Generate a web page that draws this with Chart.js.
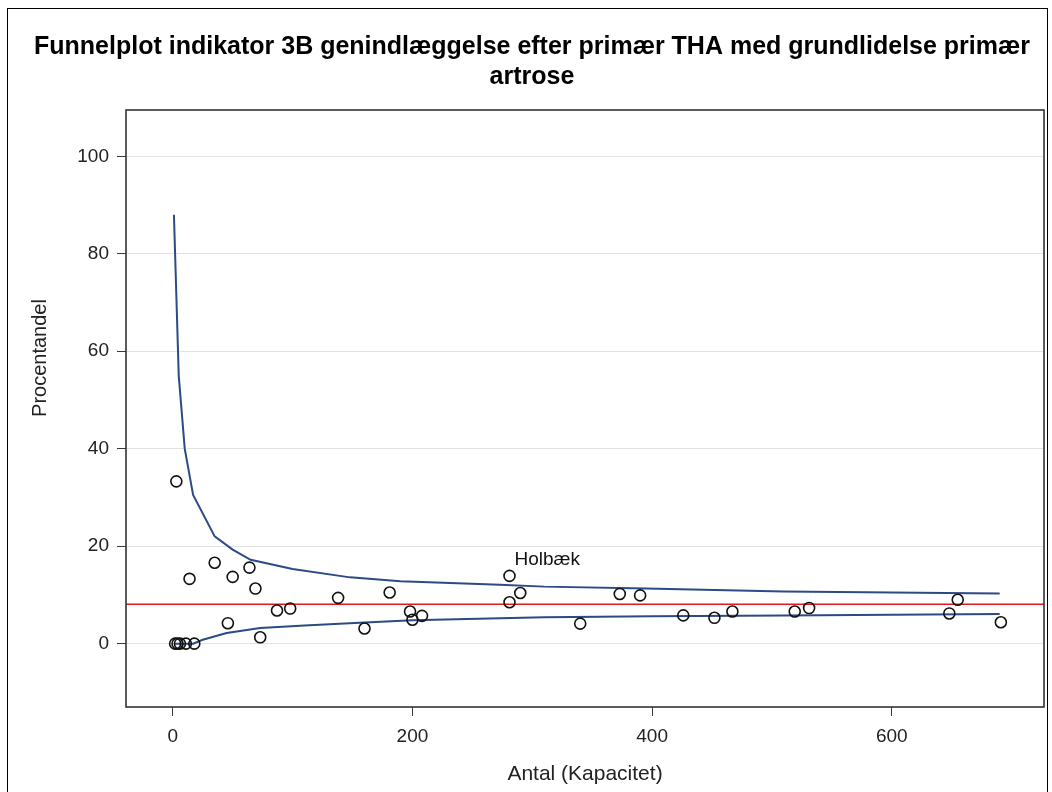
<!DOCTYPE html>
<html>
<head>
<meta charset="utf-8">
<script src="https://cdn.jsdelivr.net/npm/chart.js@4.4.1/dist/chart.umd.min.js"></script>
<style>
  html, body { margin: 0; padding: 0; background: #fff; }
  #wrap { position: relative; width: 1052px; height: 792px; overflow: hidden; }
  #frame { position: absolute; left: 7px; top: 8px; width: 1041px; height: 800px; border: 1.5px solid #000; box-sizing: border-box; pointer-events: none; }
  canvas { position: absolute; left: 0; top: 0; }
</style>
</head>
<body>
<div id="wrap">
  <canvas id="c" width="1052" height="792"></canvas>
  <div id="frame"></div>
</div>
<script>
// ---- data ----
const titleLines = ["Funnelplot indikator 3B genindlæggelse efter primær THA med grundlidelse primær", "artrose"];
const xTitle = "Antal (Kapacitet)";
const yTitle = "Procentandel";
const xTicks = [0, 200, 400, 600];
const yTicks = [0, 20, 40, 60, 80, 100];

const hospN   = [2, 3, 4, 6, 11, 14, 18, 35, 46, 50, 64, 69, 73, 87, 98, 138, 160, 181, 198, 200, 208, 281, 281, 290, 340, 373, 390, 426, 452, 467, 519, 531, 648, 655, 691];
const hospPct = [0, 33.3, 0, 0, 0, 13.3, 0, 16.6, 4.2, 13.7, 15.6, 11.3, 1.3, 6.8, 7.2, 9.4, 3.1, 10.5, 6.6, 4.9, 5.7, 13.9, 8.5, 10.4, 4.1, 10.2, 9.9, 5.8, 5.3, 6.6, 6.6, 7.3, 6.2, 9.0, 4.4];

const upperN   = [1, 5, 10, 17, 35, 50, 65, 100, 148, 190, 273, 310, 395, 510, 690];
const upperPct = [88, 55, 40, 30.5, 22, 19.3, 17.2, 15.3, 13.6, 12.8, 12.1, 11.7, 11.3, 10.7, 10.3];

const lowerN   = [1, 17, 25, 45, 73, 110, 156, 200, 310, 400, 510, 690];
const lowerPct = [0, 0, 0.8, 2.2, 3.2, 3.7, 4.3, 4.8, 5.4, 5.6, 5.8, 6.1];

const meanPct = 8.1;
const xMin = -39, xMax = 727;
const yMin = -13, yMax = 109.5;

const labelName = "Holbæk";
const labelIndex = 21;

// ---- build ----
const pts = (xs, ys) => xs.map((x, i) => ({ x: x, y: ys[i] }));

const FONT = "'Liberation Sans', Arial, sans-serif";

const boxPlugin = {
  id: 'box',
  afterDraw(chart) {
    const { ctx, chartArea: a, scales } = chart;
    ctx.save();
    ctx.strokeStyle = '#333';
    ctx.lineWidth = 1.6;
    ctx.strokeRect(a.left, a.top, a.right - a.left, a.bottom - a.top);
    // point label
    const px = scales.x.getPixelForValue(hospN[labelIndex]);
    const py = scales.y.getPixelForValue(hospPct[labelIndex]);
    ctx.fillStyle = '#111';
    ctx.font = "19px " + FONT;
    ctx.textAlign = 'left';
    ctx.textBaseline = 'middle';
    ctx.fillText(labelName, px + 5, py - 16);
    // y axis title
    ctx.translate(40, 358);
    ctx.rotate(-Math.PI / 2);
    ctx.font = "20px " + FONT;
    ctx.fillStyle = '#222';
    ctx.textAlign = 'center';
    ctx.fillText(yTitle, 0, 0);
    ctx.restore();
  }
};

new Chart(document.getElementById('c'), {
  type: 'scatter',
  data: {
    datasets: [
      {
        label: 'upper',
        data: pts(upperN, upperPct),
        showLine: true,
        borderColor: '#2c4a86',
        borderWidth: 2,
        pointRadius: 0,
        tension: 0,
        order: 2
      },
      {
        label: 'lower',
        data: pts(lowerN, lowerPct),
        showLine: true,
        borderColor: '#2c4a86',
        borderWidth: 2,
        pointRadius: 0,
        tension: 0,
        order: 2
      },
      {
        label: 'mean',
        data: [{ x: xMin, y: meanPct }, { x: xMax, y: meanPct }],
        showLine: true,
        borderColor: '#e0191c',
        borderWidth: 1.5,
        pointRadius: 0,
        order: 3
      },
      {
        label: 'hosp',
        data: pts(hospN, hospPct),
        showLine: false,
        pointStyle: 'circle',
        pointRadius: 5.5,
        pointBorderWidth: 1.6,
        borderColor: '#111',
        backgroundColor: 'rgba(0,0,0,0)',
        order: 1
      }
    ]
  },
  options: {
    responsive: false,
    animation: false,
    events: [],
    layout: { padding: { left: 20, right: 8, top: 0, bottom: 5 } },
    plugins: {
      legend: { display: false },
      tooltip: { enabled: false },
      title: {
        display: true,
        text: titleLines,
        color: '#000',
        font: { family: FONT, size: 25, weight: 'bold', lineHeight: 1.2 },
        padding: { top: 32, bottom: 18 }
      }
    },
    scales: {
      x: {
        type: 'linear',
        min: xMin, max: xMax,
        afterBuildTicks(s) { s.ticks = xTicks.map(v => ({ value: v })); },
        afterFit(s) { s.height = 80; },
        ticks: { color: '#222', font: { family: FONT, size: 19 }, padding: 9, maxRotation: 0 },
        grid: { drawOnChartArea: false, drawTicks: true, tickLength: 9, tickColor: '#3a3a3a', color: '#3a3a3a' },
        border: { display: false },
        title: { display: true, text: xTitle, color: '#222', font: { family: FONT, size: 21 }, padding: { top: 0, bottom: 0 } }
      },
      y: {
        type: 'linear',
        min: yMin, max: yMax,
        afterBuildTicks(s) { s.ticks = yTicks.map(v => ({ value: v })); },
        afterFit(s) { s.width = 106; },
        ticks: { color: '#222', font: { family: FONT, size: 19 }, padding: 8 },
        grid: { drawOnChartArea: true, drawTicks: true, tickLength: 9, color: '#e2e2e2', tickColor: '#3a3a3a' },
        border: { display: false },
        title: { display: false }
      }
    }
  },
  plugins: [boxPlugin]
});
</script>
</body>
</html>
